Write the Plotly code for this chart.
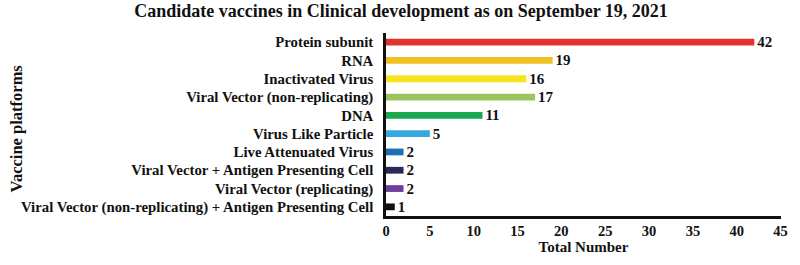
import plotly.graph_objects as go

categories = [
    "Protein subunit",
    "RNA",
    "Inactivated Virus",
    "Viral Vector (non-replicating)",
    "DNA",
    "Virus Like Particle",
    "Live Attenuated Virus",
    "Viral Vector + Antigen Presenting Cell",
    "Viral Vector (replicating)",
    "Viral Vector (non-replicating) + Antigen Presenting Cell",
]
values = [42, 19, 16, 17, 11, 5, 2, 2, 2, 1]
colors = ["#e3312f", "#efc025", "#f6e51c", "#9cc45c", "#1aa84f", "#33a9de",
          "#1f6fb5", "#29295a", "#6f3f9e", "#111111"]
x_ticks = [0, 5, 10, 15, 20, 25, 30, 35, 40, 45]

FONT = "Times New Roman, Liberation Serif, serif"
L, R, T, B = 386, 12, 33, 45
PW = 800 - L - R
PH = 265 - T - B

fig = go.Figure(go.Bar(
    x=values, y=categories, orientation="h",
    marker=dict(color=colors, line=dict(width=0)),
    width=0.37,
    text=[f"<b>{v}</b>" for v in values], textposition="outside",
    constraintext="none",
    textfont=dict(family=FONT, size=15, color="#111"),
    cliponaxis=False,
))

fig.update_layout(
    width=800, height=265,
    margin=dict(l=L, r=R, t=T, b=B),
    paper_bgcolor="white", plot_bgcolor="white",
    showlegend=False,
    title=dict(text="<b>Candidate vaccines in Clinical development as on September 19, 2021</b>",
               x=401 / 800, xref="container", xanchor="center", y=0.958, yanchor="middle",
               font=dict(family=FONT, size=18, color="#111")),
    font=dict(family=FONT, color="#111"),
    xaxis=dict(range=[0, 45.05], tickvals=x_ticks, ticktext=[f"<b>{t}</b>" for t in x_ticks],
               showgrid=False, zeroline=False, showline=True, linecolor="#111", linewidth=2.5,
               ticks="", tickfont=dict(family=FONT, size=14.5, color="#111"),
               title=dict(text="<b>Total Number</b>", font=dict(family=FONT, size=15, color="#111"),
                          standoff=3)),
    yaxis=dict(categoryorder="array", categoryarray=categories[::-1],
               range=[-0.5, 9.5], showgrid=False, zeroline=False, showline=True,
               linecolor="#111", linewidth=2.5, ticks="",
               tickvals=categories, ticktext=[f"<b>{c}</b>" for c in categories],
               tickfont=dict(family=FONT, size=14.8, color="#111"), ticklabelstandoff=7),
    annotations=[dict(text="<b>Vaccine platforms</b>", textangle=-90, xref="paper", yref="paper",
                      x=(10 - L) / PW, y=(220 - 131) / PH, xanchor="center", yanchor="middle",
                      showarrow=False, font=dict(family=FONT, size=16.5, color="#111"))],
)

fig.write_html("out.html", config={"displayModeBar": False},
               post_script="document.body.style.margin='0';")
